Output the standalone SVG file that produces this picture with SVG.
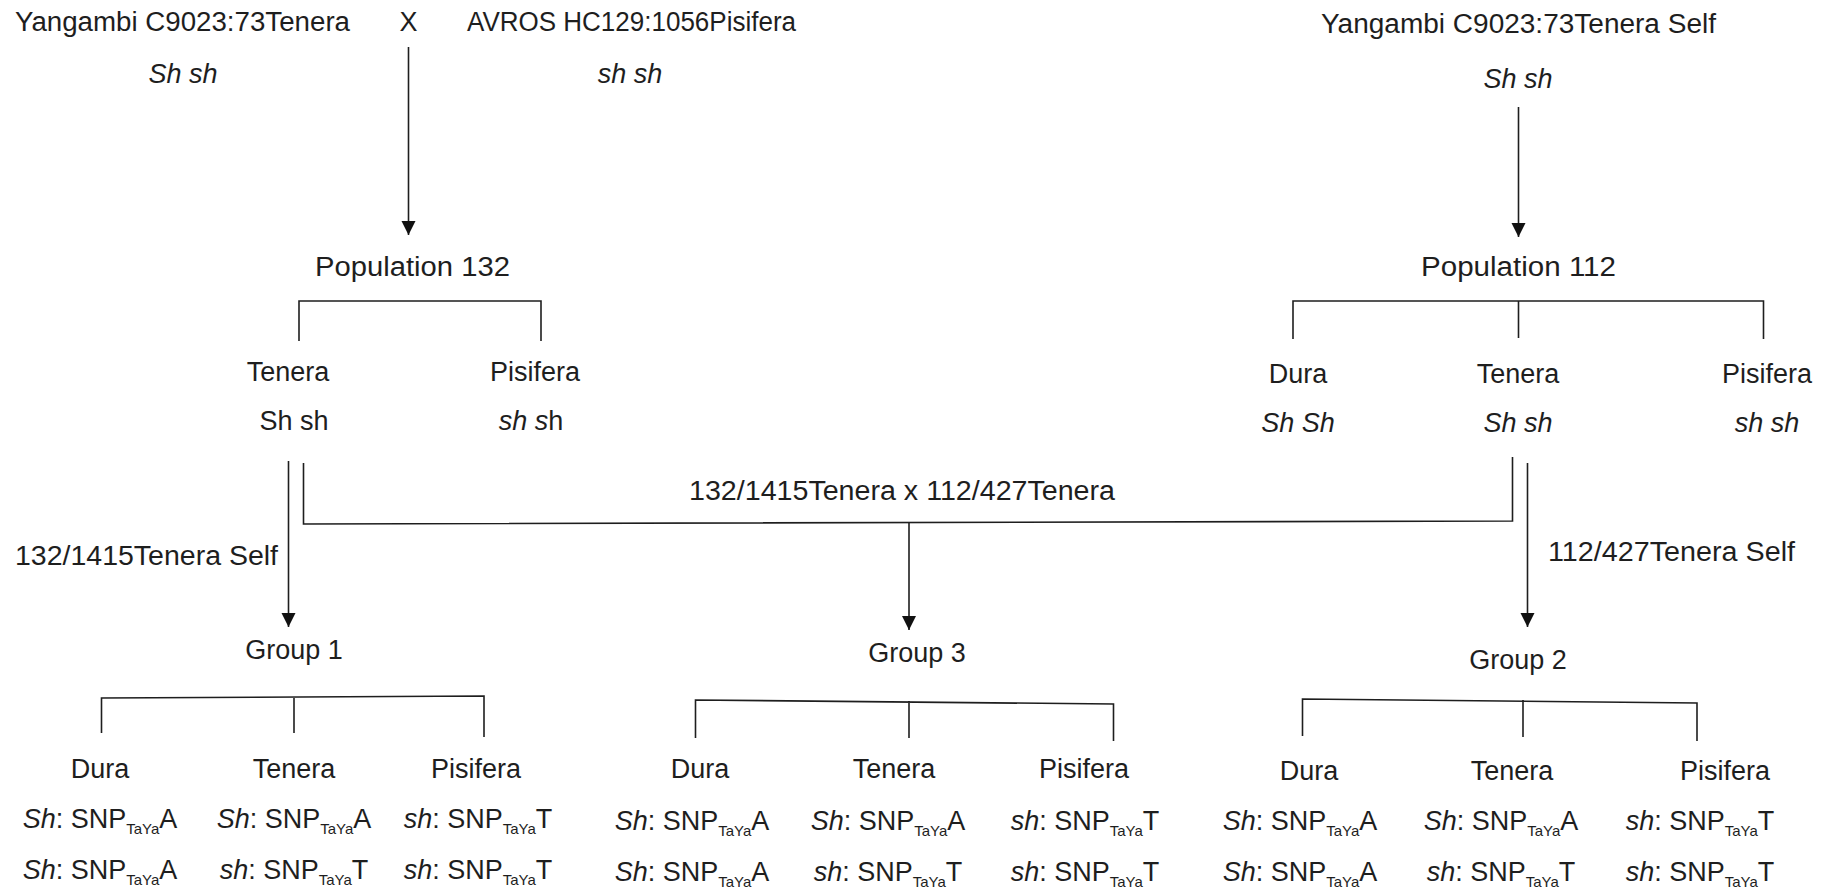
<svg xmlns="http://www.w3.org/2000/svg" width="1830" height="894" viewBox="0 0 1830 894">
<style>
text{font-family:"Liberation Sans",Arial,sans-serif;font-size:27px;fill:#1e1e1e}
.m{text-anchor:middle}
.i{font-style:italic}
.sub{font-size:15px}
.ln{fill:none;stroke:#1e1e1e;stroke-width:1.6}
</style>
<defs>
<marker id="ah" markerUnits="userSpaceOnUse" markerWidth="14" markerHeight="16" refX="14" refY="7" orient="auto">
<path d="M0,0 L14,7 L0,14 z" fill="#111"/>
</marker>
</defs>
<rect width="1830" height="894" fill="#fff"/>

<g id="parent-yangambi">
<text x="15" y="31" textLength="335" lengthAdjust="spacingAndGlyphs">Yangambi C9023:73Tenera</text>
<text x="183" y="83" class="m i">Sh sh</text>
</g>
<g id="cross-x"><text x="408.5" y="31" class="m">X</text></g>
<g id="parent-avros">
<text x="467" y="31" textLength="329" lengthAdjust="spacingAndGlyphs">AVROS HC129:1056Pisifera</text>
<text x="630" y="83" class="m i">sh sh</text>
</g>
<g id="parent-yangambi-self">
<text x="1321" y="33" textLength="395" lengthAdjust="spacingAndGlyphs">Yangambi C9023:73Tenera Self</text>
<text x="1518" y="88" class="m i">Sh sh</text>
</g>

<g id="pop132"><text x="315" y="276" textLength="195" lengthAdjust="spacingAndGlyphs">Population 132</text></g>
<g id="pop112"><text x="1421" y="276" textLength="195" lengthAdjust="spacingAndGlyphs">Population 112</text></g>

<g id="p132-tenera">
<text x="288" y="381" class="m">Tenera</text>
<text x="294" y="430" class="m">Sh sh</text>
</g>
<g id="p132-pisifera">
<text x="535" y="381" class="m">Pisifera</text>
<text x="531" y="430" class="m"><tspan class="i">sh s</tspan>h</text>
</g>
<g id="p112-dura">
<text x="1298" y="383" class="m">Dura</text>
<text x="1298" y="432" class="m i">Sh Sh</text>
</g>
<g id="p112-tenera">
<text x="1518" y="383" class="m">Tenera</text>
<text x="1518" y="432" class="m i">Sh sh</text>
</g>
<g id="p112-pisifera">
<text x="1767" y="383" class="m">Pisifera</text>
<text x="1767" y="432" class="m i">sh sh</text>
</g>

<g id="cross-label"><text x="689" y="500" textLength="426" lengthAdjust="spacingAndGlyphs">132/1415Tenera x 112/427Tenera</text></g>
<g id="self132-label"><text x="15" y="565" textLength="263" lengthAdjust="spacingAndGlyphs">132/1415Tenera Self</text></g>
<g id="self112-label"><text x="1548" y="561" textLength="247" lengthAdjust="spacingAndGlyphs">112/427Tenera Self</text></g>

<g id="group1"><text x="294" y="659" class="m">Group 1</text></g>
<g id="group3"><text x="917" y="662" class="m">Group 3</text></g>
<g id="group2"><text x="1518" y="669" class="m">Group 2</text></g>

<g id="g1-dura">
<text x="100" y="778" class="m">Dura</text>
<text x="100" y="828" class="m"><tspan class="i">Sh</tspan>: SNP<tspan class="sub" dy="6">TaYa</tspan><tspan dy="-6">A</tspan></text>
<text x="100" y="879" class="m"><tspan class="i">Sh</tspan>: SNP<tspan class="sub" dy="6">TaYa</tspan><tspan dy="-6">A</tspan></text>
</g>
<g id="g1-tenera">
<text x="294" y="778" class="m">Tenera</text>
<text x="294" y="828" class="m"><tspan class="i">Sh</tspan>: SNP<tspan class="sub" dy="6">TaYa</tspan><tspan dy="-6">A</tspan></text>
<text x="294" y="879" class="m"><tspan class="i">sh</tspan>: SNP<tspan class="sub" dy="6">TaYa</tspan><tspan dy="-6">T</tspan></text>
</g>
<g id="g1-pisifera">
<text x="476" y="778" class="m">Pisifera</text>
<text x="478" y="828" class="m"><tspan class="i">sh</tspan>: SNP<tspan class="sub" dy="6">TaYa</tspan><tspan dy="-6">T</tspan></text>
<text x="478" y="879" class="m"><tspan class="i">sh</tspan>: SNP<tspan class="sub" dy="6">TaYa</tspan><tspan dy="-6">T</tspan></text>
</g>

<g id="g3-dura">
<text x="700" y="778" class="m">Dura</text>
<text x="692" y="830" class="m"><tspan class="i">Sh</tspan>: SNP<tspan class="sub" dy="6">TaYa</tspan><tspan dy="-6">A</tspan></text>
<text x="692" y="881" class="m"><tspan class="i">Sh</tspan>: SNP<tspan class="sub" dy="6">TaYa</tspan><tspan dy="-6">A</tspan></text>
</g>
<g id="g3-tenera">
<text x="894" y="778" class="m">Tenera</text>
<text x="888" y="830" class="m"><tspan class="i">Sh</tspan>: SNP<tspan class="sub" dy="6">TaYa</tspan><tspan dy="-6">A</tspan></text>
<text x="888" y="881" class="m"><tspan class="i">sh</tspan>: SNP<tspan class="sub" dy="6">TaYa</tspan><tspan dy="-6">T</tspan></text>
</g>
<g id="g3-pisifera">
<text x="1084" y="778" class="m">Pisifera</text>
<text x="1085" y="830" class="m"><tspan class="i">sh</tspan>: SNP<tspan class="sub" dy="6">TaYa</tspan><tspan dy="-6">T</tspan></text>
<text x="1085" y="881" class="m"><tspan class="i">sh</tspan>: SNP<tspan class="sub" dy="6">TaYa</tspan><tspan dy="-6">T</tspan></text>
</g>

<g id="g2-dura">
<text x="1309" y="780" class="m">Dura</text>
<text x="1300" y="830" class="m"><tspan class="i">Sh</tspan>: SNP<tspan class="sub" dy="6">TaYa</tspan><tspan dy="-6">A</tspan></text>
<text x="1300" y="881" class="m"><tspan class="i">Sh</tspan>: SNP<tspan class="sub" dy="6">TaYa</tspan><tspan dy="-6">A</tspan></text>
</g>
<g id="g2-tenera">
<text x="1512" y="780" class="m">Tenera</text>
<text x="1501" y="830" class="m"><tspan class="i">Sh</tspan>: SNP<tspan class="sub" dy="6">TaYa</tspan><tspan dy="-6">A</tspan></text>
<text x="1501" y="881" class="m"><tspan class="i">sh</tspan>: SNP<tspan class="sub" dy="6">TaYa</tspan><tspan dy="-6">T</tspan></text>
</g>
<g id="g2-pisifera">
<text x="1725" y="780" class="m">Pisifera</text>
<text x="1700" y="830" class="m"><tspan class="i">sh</tspan>: SNP<tspan class="sub" dy="6">TaYa</tspan><tspan dy="-6">T</tspan></text>
<text x="1700" y="881" class="m"><tspan class="i">sh</tspan>: SNP<tspan class="sub" dy="6">TaYa</tspan><tspan dy="-6">T</tspan></text>
</g>

<g id="connectors">
<line class="ln" x1="408.5" y1="47" x2="408.5" y2="235" marker-end="url(#ah)"/>
<line class="ln" x1="1518.5" y1="107" x2="1518.5" y2="237" marker-end="url(#ah)"/>
<path class="ln" d="M299,341 V301 H541 V341"/>
<path class="ln" d="M1293,339 V301 H1763.5 V339 M1518.5,301 V338"/>
<line class="ln" x1="288.5" y1="461" x2="288.5" y2="627" marker-end="url(#ah)"/>
<path class="ln" d="M303.5,463 V524 L1512.5,521 V457"/>
<line class="ln" x1="909" y1="523" x2="909" y2="630" marker-end="url(#ah)"/>
<line class="ln" x1="1527.5" y1="463" x2="1527.5" y2="627" marker-end="url(#ah)"/>
<path class="ln" d="M101.5,733 V698 L484,696 V737 M294,697 V733"/>
<path class="ln" d="M695.5,738 V700 L1113.5,704 V741 M909,701 V738"/>
<path class="ln" d="M1302.5,736 V699 L1697,703 V741 M1523,700 V737"/>
</g>
</svg>
